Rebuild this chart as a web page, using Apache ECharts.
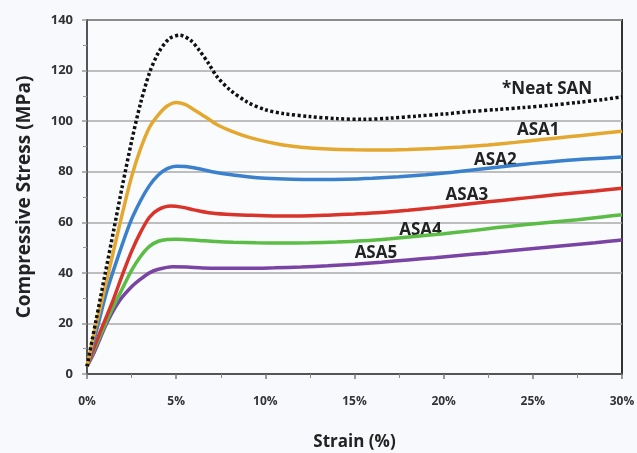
<!DOCTYPE html>
<html>
<head>
<meta charset="utf-8">
<script src="https://cdn.jsdelivr.net/npm/echarts@6/dist/echarts.min.js"></script>
<style>html,body{margin:0;padding:0;background:#f7f9fc;}#c{width:637px;height:453px;}</style>
</head>
<body>
<div id="c"></div>
<script>
const xTicks = [0, 5, 10, 15, 20, 25, 30];
const yTicks = [0, 20, 40, 60, 80, 100, 120, 140];
const seriesNames = ['*Neat SAN', 'ASA1', 'ASA2', 'ASA3', 'ASA4', 'ASA5'];
const neatSAN = [[0,3],[0.5,21],[1,39],[1.5,57],[2,75],[2.5,92],[3,107],[3.5,119],[4,127],[4.6,132.5],[5.2,134],[5.8,132],[6.3,128],[6.8,123],[7.3,117.5],[8,112.5],[9,107.5],[10,104.5],[11,103],[12.5,101.8],[14,101],[15.5,100.7],[17,101.2],[18.5,102],[20,102.8],[21.5,103.8],[23,104.6],[24.5,105.4],[26,106.3],[27.5,107.4],[29,108.6],[30,109.6]];
const asa1 = [[0,3],[0.5,19],[1,34],[1.5,49],[2,64],[2.5,78],[3,89],[3.5,97.5],[4,102.5],[4.5,106],[5,107.4],[5.5,106.6],[6,104.5],[6.6,101.8],[7.3,98.6],[8.2,95.8],[9.1,93.6],[10.1,91.8],[11,90.6],[12,89.7],[13.5,89],[15,88.7],[16.5,88.6],[18,88.8],[19.5,89.2],[21,89.8],[22.5,90.6],[24,91.6],[25.5,92.7],[27,93.8],[28.5,94.9],[30,96]];
const asa2 = [[0,3],[0.6,19],[1.1,32.5],[1.7,45.5],[2.4,59.5],[3,68.5],[3.5,74.5],[4,78.7],[4.5,81.2],[5,82.2],[5.5,82.1],[6.2,81.3],[7,80],[8,78.9],[9,78],[10,77.4],[11.5,77],[13,76.9],[14.5,77],[16,77.4],[17.5,78],[19,78.8],[20.5,79.8],[22,81],[23.5,82.2],[25,83.3],[26.5,84.2],[28,85],[30,85.8]];
const asa3 = [[0,3],[0.7,16],[1.4,28],[2,39.5],[2.5,48.5],[3,56],[3.5,62],[4,65],[4.7,66.4],[5.3,66],[6,64.9],[6.8,63.8],[7.8,63.2],[9,62.8],[10.5,62.5],[12,62.5],[13.5,62.8],[15,63.3],[16.5,63.9],[18,64.8],[19.5,65.8],[21,66.9],[22.5,68.1],[24,69.2],[25.5,70.3],[27,71.4],[28.5,72.4],[30,73.5]];
const asa4 = [[0,3],[0.55,12],[1.3,24],[2,34],[2.5,41],[3,46.5],[3.5,50.5],[4,52.5],[4.5,53.2],[5,53.3],[5.6,53.1],[6.3,52.8],[7.2,52.4],[8.2,52.1],[9.5,51.9],[11,51.8],[12.5,51.9],[14,52.2],[15.5,52.7],[17,53.5],[18.5,54.5],[20,55.5],[21.5,56.6],[23,57.9],[24.5,59],[26,60],[27.5,61],[29,62.2],[30,63]];
const asa5 = [[0,3],[0.4,8.5],[1.1,20],[1.8,28.8],[2.5,34.5],[3,37.5],[3.5,40],[4,41.4],[4.8,42.4],[5.6,42.3],[6.5,41.9],[7.5,41.8],[9,41.8],[10.5,42],[12,42.3],[13.5,42.8],[15,43.4],[16.5,44.2],[18,45.1],[19.5,46],[21,47],[22.5,47.9],[24,48.9],[25.5,49.9],[27,50.9],[28.5,51.9],[30,53]];
const labelAnchors = [[25.8,112.6],[25.3,96.4],[22.9,84.4],[21.3,70.6],[18.7,56.9],[16.2,47.8]];
const colors = ['#111111', '#e4a830', '#3b80cc', '#d9342b', '#5bbd45', '#7a44a4'];
const allData = [neatSAN, asa1, asa2, asa3, asa4, asa5];

const chart = echarts.init(document.getElementById('c'));
const font = '"Open Sans", "Liberation Sans", sans-serif';
chart.setOption({
  backgroundColor: '#f7f9fc',
  animation: false,
  grid: { left: 87, right: 15, top: 20, bottom: 79, outerBoundsMode: 'none', containLabel: false, show: true, borderColor: '#333', borderWidth: 2, backgroundColor: '#f9fbfd' },
  xAxis: {
    type: 'value', min: 0, max: 30, interval: 5,
    name: 'Strain (%)', nameLocation: 'middle', nameGap: 60,
    nameTextStyle: { fontFamily: font, fontWeight: 'bold', fontSize: 17, color: '#222' },
    axisLine: { show: true, lineStyle: { color: '#555', width: 2 } },
    axisTick: { show: true, inside: false, length: 5, lineStyle: { color: '#777', width: 1.5 } },
    minorTick: { show: true, splitNumber: 2, length: 4, lineStyle: { color: '#888' } },
    axisLabel: { formatter: v => v + '%', fontFamily: font, fontWeight: 'bold', fontSize: 12, color: '#333', margin: 22 },
    splitLine: { show: false }
  },
  yAxis: {
    type: 'value', min: 0, max: 140, interval: 20,
    name: 'Compressive Stress (MPa)', nameLocation: 'middle', nameGap: 53,
    nameTextStyle: { fontFamily: font, fontWeight: 'bold', fontSize: 19, color: '#222' },
    axisLine: { show: true, lineStyle: { color: '#555', width: 2 } },
    axisTick: { show: true, inside: false, length: 5, lineStyle: { color: '#999', width: 1.5 } },
    minorTick: { show: true, splitNumber: 2, length: 4, lineStyle: { color: '#999' } },
    axisLabel: { fontFamily: font, fontWeight: 'bold', fontSize: 13, color: '#333', margin: 14 },
    splitLine: { show: true, lineStyle: { color: '#aaaaaa', width: 1.5 } }
  },
  series: allData.map((d, i) => ({
    name: seriesNames[i],
    type: 'line',
    data: d,
    smooth: 0.3,
    showSymbol: false,
    z: 10 - i,
    lineStyle: i === 0
      ? { color: colors[i], width: 3.5, type: [3, 2.5], cap: 'butt' }
      : { color: colors[i], width: 3.5 },
    markPoint: {
      symbol: 'circle', symbolSize: 0,
      data: [{ coord: labelAnchors[i] }],
      label: { show: true, position: 'inside', formatter: seriesNames[i], fontFamily: font, fontWeight: 'bold', fontSize: 17, color: '#222' }
    }
  }))
});
</script>
</body>
</html>
